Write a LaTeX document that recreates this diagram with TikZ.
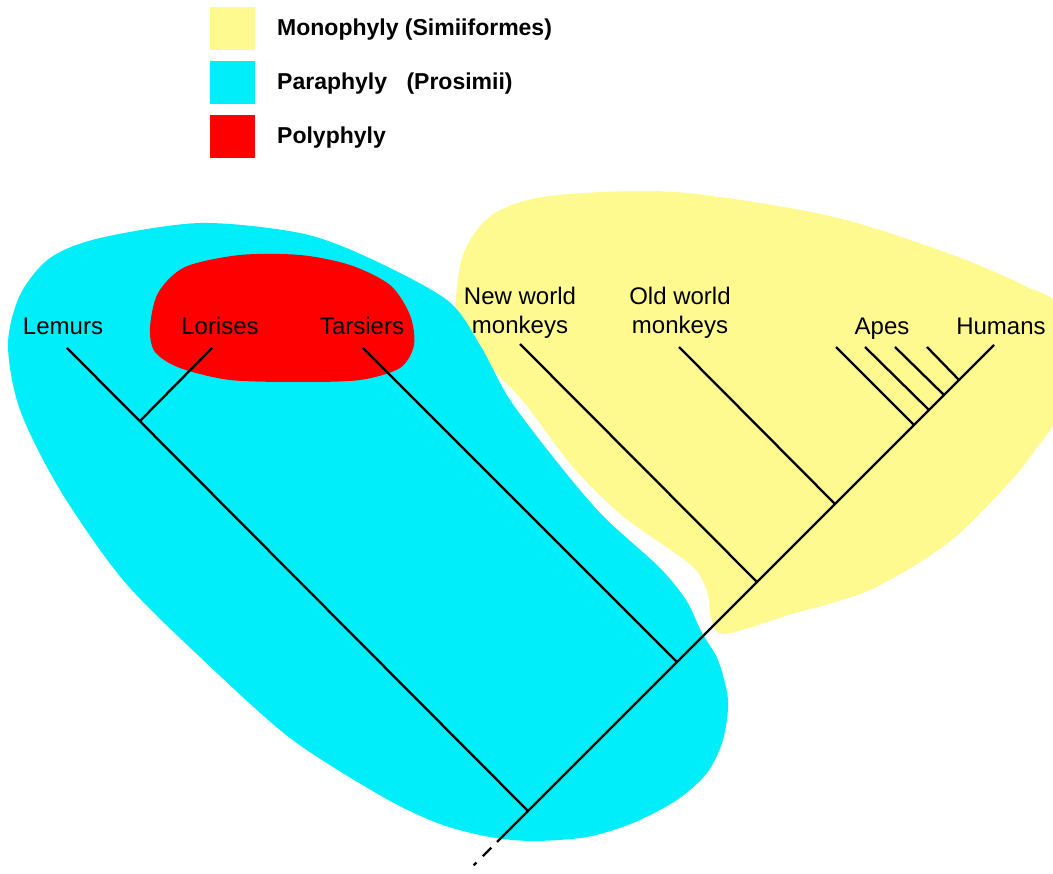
\documentclass[tikz,border=0pt]{standalone}
\usepackage{fontspec}
\setmainfont{Liberation Sans}
\definecolor{monoY}{RGB}{255,250,143}
\definecolor{paraC}{RGB}{0,238,250}
\definecolor{polyR}{RGB}{255,0,0}
\begin{document}
\begin{tikzpicture}[x=1pt,y=-1pt,
  branch/.style={line width=2.3pt,black},
  taxon/.style={font=\fontsize{24}{29}\selectfont,inner sep=0pt,anchor=base},
  taxon2/.style={font=\fontsize{24}{29}\selectfont,inner sep=0pt,anchor=south,align=center},
  legbox/.style={draw=none,minimum width=45pt,minimum height=43pt,inner sep=0pt,anchor=north west},
  legtext/.style={font=\fontsize{23}{28}\selectfont\bfseries,inner sep=0pt,anchor=base west}]
\useasboundingbox (0,0) rectangle (1053,874);
\clip (0,0) rectangle (1053,874);
% legend
\node[legbox,fill=monoY] (ly) at (210,7) {};
\node[legbox,fill=paraC] (lc) at (210,61) {};
\node[legbox,fill=polyR] (lr) at (210,115) {};
\node[legtext] (tly) at (277,36) {Monophyly (Simiiformes)};
\node[legtext] (tlc) at (277,90) {Paraphyly\hspace{13pt} (Prosimii)};
\node[legtext] (tlr) at (277,144) {Polyphyly};
% regions
\fill[monoY] plot[smooth cycle] coordinates {(456,330) (462,258) (492,215) (550,196) (675,192) (830,216) (950,254) (1025,286) (1058,310) (1058,410) (1035,450) (1007,485) (948,543) (870,590) (792,614) (724,634) (711,617) (708,595) (692,566) (624,517) (573,467) (522,400) (478,355)};
\fill[paraC] plot[smooth cycle] coordinates {(8,345) (20,295) (50,258) (100,238) (200,223) (300,233) (367,257) (447,300) (480,345) (510,400) (561,467) (604,517) (659,567) (686,600) (702,633) (718,660) (728,700) (723,740) (707,773) (677,800) (633,823) (587,837) (533,841) (490,837) (440,824) (383,797) (290,738) (200,657) (123,580) (60,490) (20,410)};
\fill[polyR] plot[smooth cycle] coordinates {(150,328) (158,293) (185,267) (240,255) (300,255) (350,265) (390,285) (410,315) (414,345) (400,368) (360,380) (300,382) (230,380) (180,368) (155,352)};
% tree coordinates
\coordinate (root) at (528,811);
\coordinate (stem) at (497,842);
\coordinate (stemend) at (469,870);
\coordinate (jLor) at (140,421);
\coordinate (jTar) at (677,662);
\coordinate (jNew) at (757,582);
\coordinate (jOld) at (835,504);
\coordinate (jA1) at (914,425);
\coordinate (jA2) at (929,410);
\coordinate (jA3) at (944,395);
\coordinate (jA4) at (959,380);
\coordinate (tLem) at (67,348);
\coordinate (tLor) at (212,348);
\coordinate (tTar) at (363,348);
\coordinate (tNew) at (520,344);
\coordinate (tOld) at (679,347);
\coordinate (tA1) at (836,347);
\coordinate (tA2) at (865,347);
\coordinate (tA3) at (895,347);
\coordinate (tA4) at (927,347);
\coordinate (tHum) at (994,345);
% branches
\draw[branch] (stem) -- (tHum);
\draw[branch,dash pattern=on 0pt off 8pt on 12pt off 9pt on 4pt off 30pt] (stem) -- (stemend);
\draw[branch] (root) -- (tLem);
\draw[branch] (jLor) -- (tLor);
\draw[branch] (jTar) -- (tTar);
\draw[branch] (jNew) -- (tNew);
\draw[branch] (jOld) -- (tOld);
\draw[branch] (jA1) -- (tA1);
\draw[branch] (jA2) -- (tA2);
\draw[branch] (jA3) -- (tA3);
\draw[branch] (jA4) -- (tA4);
% labels
\node[taxon] (lem) at (63,335) {Lemurs};
\node[taxon] (lor) at (220,335) {Lorises};
\node[taxon] (tar) at (362,335) {Tarsiers};
\node[taxon2] (nwm) at (520,339) {New world\\monkeys};
\node[taxon2] (owm) at (680,339) {Old world\\monkeys};
\node[taxon] (ape) at (882,335) {Apes};
\node[taxon] (hum) at (1001,335) {Humans};
\end{tikzpicture}
\end{document}
